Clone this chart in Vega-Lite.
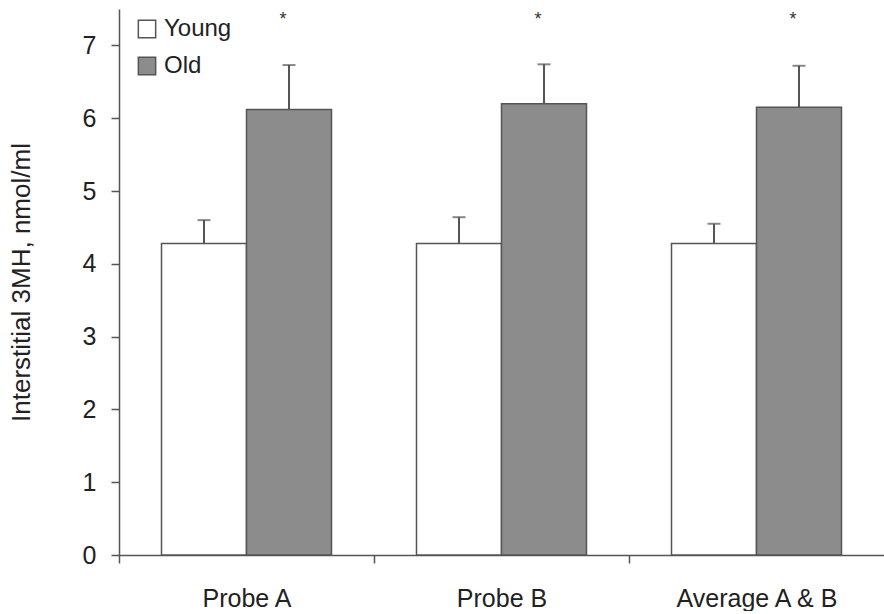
{
  "$schema": "https://vega.github.io/schema/vega-lite/v6.json",
  "width": 765,
  "height": 546,
  "padding": {"left": 8, "top": 9, "right": 0, "bottom": 0},
  "autosize": {"type": "pad"},
  "background": "white",
  "config": {
    "view": {"stroke": null},
    "font": "Liberation Sans",
    "axis": {"domainColor": "#555", "tickColor": "#555", "labelColor": "#222", "titleColor": "#222", "grid": false, "labelFont": "Liberation Sans", "titleFont": "Liberation Sans"}
  },
  "data": {
    "values": [
      {"group": "Probe A", "age": "Young", "value": 4.28, "upper": 4.6, "star": null},
      {"group": "Probe A", "age": "Old", "value": 6.12, "upper": 6.73, "star": 7.35},
      {"group": "Probe B", "age": "Young", "value": 4.28, "upper": 4.64, "star": null},
      {"group": "Probe B", "age": "Old", "value": 6.2, "upper": 6.74, "star": 7.35},
      {"group": "Average A & B", "age": "Young", "value": 4.28, "upper": 4.55, "star": null},
      {"group": "Average A & B", "age": "Old", "value": 6.15, "upper": 6.72, "star": 7.35}
    ]
  },
  "encoding": {
    "x": {
      "field": "group", "type": "nominal", "sort": ["Probe A", "Probe B", "Average A & B"],
      "scale": {"paddingInner": 0, "paddingOuter": 0},
      "axis": {"title": null, "labelAngle": 0, "labelFontSize": 25, "labelPadding": 23, "tickSize": 8, "tickOffset": -127.5, "labelOffset": 127.5, "domainWidth": 1.5, "tickWidth": 1.5}
    },
    "xOffset": {"field": "age", "type": "nominal", "sort": ["Young", "Old"], "scale": {"paddingInner": 0, "paddingOuter": 0.5}}
  },
  "layer": [
    {
      "mark": {"type": "rule", "color": "#555", "strokeWidth": 2},
      "encoding": {
        "y": {"field": "value", "type": "quantitative"},
        "y2": {"field": "upper"}
      }
    },
    {
      "mark": {"type": "tick", "orient": "horizontal", "color": "#555", "size": 13, "thickness": 2},
      "encoding": {
        "y": {"field": "upper", "type": "quantitative"}
      }
    },
    {
      "mark": {"type": "bar", "stroke": "#555", "strokeWidth": 1.5},
      "encoding": {
        "y": {
          "field": "value", "type": "quantitative",
          "scale": {"domain": [0, 7.5], "nice": false},
          "axis": {
            "title": "Interstitial 3MH, nmol/ml", "titleFontSize": 26, "titleFontWeight": "normal", "titlePadding": 48,
            "values": [0, 0.5, 1, 1.5, 2, 2.5, 3, 3.5, 4, 4.5, 5, 5.5, 6, 6.5, 7, 7.5],
            "labelExpr": "datum.value % 1 === 0 ? format(datum.value, 'd') : ''",
            "labelFontSize": 25, "labelPadding": 15, "tickSize": 8, "domainWidth": 1.5, "tickWidth": 1.5
          }
        },
        "fill": {
          "field": "age", "type": "nominal", "sort": ["Young", "Old"],
          "scale": {"domain": ["Young", "Old"], "range": ["#ffffff", "#8c8c8c"]},
          "legend": {
            "title": null, "orient": "none", "legendX": 16, "legendY": 8, "symbolType": "square", "symbolSize": 300,
            "symbolStrokeColor": "#555", "symbolStrokeWidth": 1.5, "labelFontSize": 24, "labelColor": "#222",
            "rowPadding": 13, "labelOffset": 5, "padding": 0
          }
        }
      }
    },
    {
      "mark": {"type": "text", "fontSize": 18, "baseline": "middle", "color": "#333", "dx": -6},
      "encoding": {
        "y": {"field": "star", "type": "quantitative"},
        "text": {"value": "*"}
      }
    }
  ]
}
